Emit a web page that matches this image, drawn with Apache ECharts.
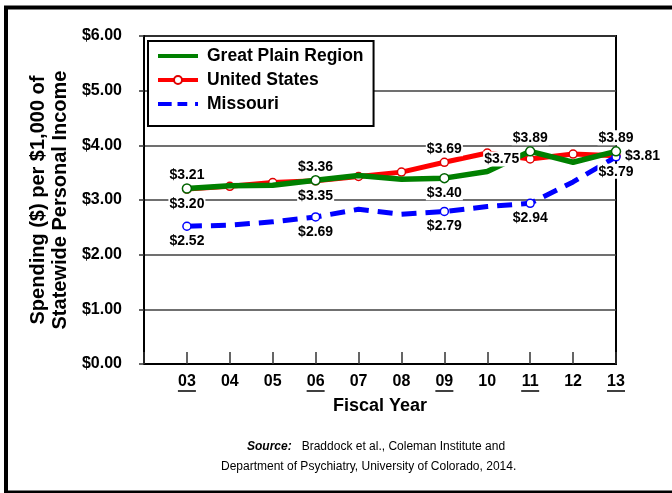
<!DOCTYPE html>
<html>
<head>
<meta charset="utf-8">
<script src="https://cdn.jsdelivr.net/npm/echarts@6/dist/echarts.min.js"></script>
<style>
html,body{margin:0;padding:0;background:#fff;}
#chart{width:672px;height:493px;}
</style>
</head>
<body>
<div id="chart"></div>
<script>
// ---- data ----
const years = [2003, 2004, 2005, 2006, 2007, 2008, 2009, 2010, 2011, 2012, 2013];
const underlinedYears = [2003, 2006, 2009, 2011, 2013];
const greatPlains = [3.21, 3.26, 3.27, 3.36, 3.45, 3.38, 3.40, 3.52, 3.89, 3.69, 3.89];
const unitedStates = [3.20, 3.25, 3.32, 3.35, 3.43, 3.51, 3.69, 3.86, 3.75, 3.84, 3.81];
const missouri = [2.52, 2.54, 2.60, 2.69, 2.83, 2.74, 2.79, 2.88, 2.94, 3.33, 3.79];
const seriesNames = ['Great Plain Region', 'United States', 'Missouri'];
const yTicks = [0, 1, 2, 3, 4, 5, 6];

// ---- styling config (not data) ----
const FONT = 'Arial, "Liberation Sans", Helvetica, sans-serif';
const markIdx = [0, 3, 6, 8, 10];
const greenLabelPos = {0: 'top', 3: 'top', 6: 'bottom', 8: 'top', 10: 'top'};
const redLabelPos = {0: 'bottom', 3: 'bottom', 6: 'top', 8: 'left', 10: 'right'};
const blueLabelPos = {0: 'bottom', 3: 'bottom', 6: 'bottom', 8: 'bottom', 10: 'bottom'};

function labelCfg(pos) {
  const dist = {top: 2, bottom: 3, left: 6, right: 4}[pos];
  return {
    show: true, position: pos, distance: dist,
    fontFamily: FONT, fontSize: 14, fontWeight: 'bold', color: '#000', opacity: 1,
    backgroundColor: '#fff', padding: [1, 1, 0, 1],
    formatter: p => '$' + p.value[1].toFixed(2)
  };
}
function build(vals, marks) {
  return vals.map((v, i) => {
    const item = {value: [years[i], v]};
    if (marks) item.symbol = marks.includes(i) ? 'circle' : 'none';
    return item;
  });
}
// value labels drawn above every line (as in the original)
function labelSeries(vals, labelPos) {
  const data = [];
  vals.forEach((v, i) => {
    if (labelPos[i]) data.push({value: [years[i], v], label: labelCfg(labelPos[i])});
  });
  return {
    type: 'scatter', z: 10, silent: true, symbol: 'circle', symbolSize: 8,
    itemStyle: {color: 'rgba(0,0,0,0)', borderWidth: 0, opacity: 1},
    data
  };
}

const chart = echarts.init(document.getElementById('chart'), null, {renderer: 'canvas'});
const option = {
  animation: false,
  backgroundColor: '#fff',
  grid: {left: 144, right: 56, top: 36, bottom: 129, show: true, borderColor: '#000', borderWidth: 2, backgroundColor: 'transparent'},
  legend: {
    orient: 'vertical', left: 148, top: 41,
    itemWidth: 40, itemHeight: 10, itemGap: 6,
    padding: [6, 10, 13, 8],
    borderColor: '#000', borderWidth: 2, backgroundColor: '#fff',
    lineStyle: {width: 4},
    textStyle: {fontFamily: FONT, fontSize: 17.5, fontWeight: 'bold', color: '#000', lineHeight: 17, padding: [0, 0, 0, 4]},
    data: [
      {name: seriesNames[0], icon: 'path://M0,0H40V4H0Z', itemStyle: {color: '#008000', borderWidth: 0}},
      {name: seriesNames[1]},
      {name: seriesNames[2], icon: 'path://M0,0H14V4H0Z M20,0H30V4H20Z M38,0H41V4H38Z', itemStyle: {color: '#0000ff', borderWidth: 0}}
    ]
  },
  xAxis: {
    type: 'value', min: 2002, max: 2013, interval: 1,
    name: 'Fiscal Year', nameLocation: 'middle', nameGap: 33,
    nameTextStyle: {fontFamily: FONT, fontSize: 18, fontWeight: 'bold', color: '#000'},
    axisLine: {show: true, lineStyle: {color: '#000', width: 2}},
    axisTick: {show: true, inside: true, length: 12, lineStyle: {color: '#333', width: 1.5}},
    axisLabel: {
      margin: 10, fontFamily: FONT, fontSize: 16, fontWeight: 'bold', color: '#000',
      formatter: v => (v === 2002 ? '' : String(v).slice(2))
    },
    splitLine: {show: false}
  },
  yAxis: {
    type: 'value', min: yTicks[0], max: yTicks[yTicks.length - 1], interval: 1,
    name: 'Spending ($) per $1,000 of\nStatewide Personal Income',
    nameLocation: 'middle', nameRotate: 90, nameGap: 70,
    nameTextStyle: {fontFamily: FONT, fontSize: 20, fontWeight: 'bold', color: '#000', lineHeight: 22},
    axisLine: {show: true, lineStyle: {color: '#000', width: 2}},
    axisTick: {show: true, inside: false, length: 5, lineStyle: {color: '#333', width: 1.5}},
    axisLabel: {
      margin: 22, fontFamily: FONT, fontSize: 16, fontWeight: 'bold', color: '#000',
      formatter: v => '$' + v.toFixed(2)
    },
    splitLine: {show: true, lineStyle: {color: '#404040', width: 1.5}}
  },
  series: [
    {
      name: seriesNames[1], type: 'line', z: 2,
      symbol: 'circle', symbolSize: 8, showSymbol: true,
      lineStyle: {color: '#ff0000', width: 5},
      itemStyle: {color: '#fff', borderColor: '#e00000', borderWidth: 1.5},
      data: build(unitedStates, null)
    },
    {
      name: seriesNames[0], type: 'line', z: 3,
      symbol: 'none', symbolSize: 9,
      lineStyle: {color: '#008000', width: 5.5},
      itemStyle: {color: '#fff', borderColor: '#006400', borderWidth: 1.5},
      data: build(greatPlains, markIdx)
    },
    {
      name: seriesNames[2], type: 'line', z: 2,
      symbol: 'none', symbolSize: 8,
      lineStyle: {color: '#0000ff', width: 5, type: [15, 9]},
      itemStyle: {color: '#fff', borderColor: '#0000ff', borderWidth: 1.5},
      data: build(missouri, markIdx)
    },
    labelSeries(greatPlains, greenLabelPos),
    labelSeries(unitedStates, redLabelPos),
    labelSeries(missouri, blueLabelPos)
  ]
};
chart.setOption(option);

// underlines under selected year labels, frame and source text
const gridBottom = 493 - 129;
const graphics = underlinedYears.map(yr => {
  const cx = chart.convertToPixel({xAxisIndex: 0}, yr);
  return {
    type: 'line', silent: true,
    shape: {x1: cx - 9, y1: gridBottom + 27, x2: cx + 9, y2: gridBottom + 27},
    style: {stroke: '#000', lineWidth: 1.5}
  };
});
graphics.push({
  type: 'rect', silent: true, z: 100,
  shape: {x: 6, y: 7.5, width: 700, height: 485},
  style: {fill: 'none', stroke: '#000', lineWidth: 4}
});
graphics.push({
  type: 'text', silent: true, left: 247, top: 441,
  style: {
    text: '{b|Source:}   Braddock et al., Coleman Institute and',
    fontFamily: FONT, fontSize: 12, fill: '#000',
    rich: {b: {fontFamily: FONT, fontSize: 12, fontWeight: 'bold', fontStyle: 'italic', fill: '#000'}}
  }
});
graphics.push({
  type: 'text', silent: true, left: 221, top: 461,
  style: {text: 'Department of Psychiatry, University of Colorado, 2014.', fontFamily: FONT, fontSize: 12, fill: '#000'}
});
chart.setOption({graphic: graphics});
</script>
</body>
</html>
